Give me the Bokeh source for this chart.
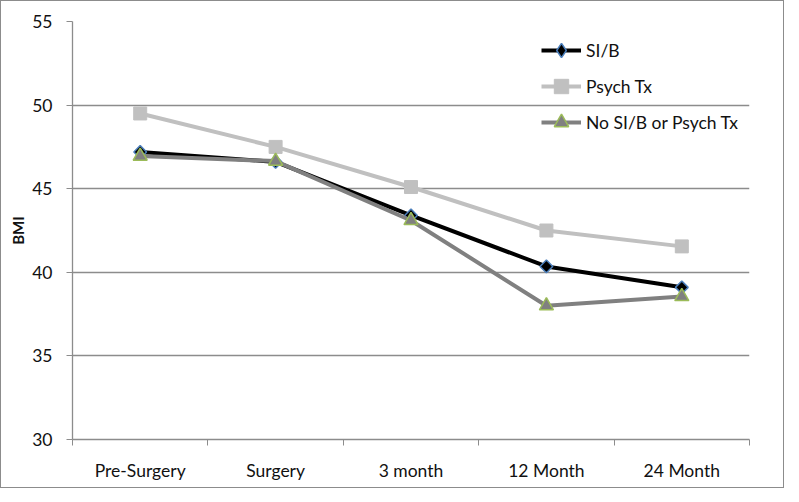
import math
from bokeh.plotting import figure
from bokeh.models import FixedTicker, Range1d, Legend, LegendItem
from bokeh.embed import file_html
from bokeh.resources import INLINE

categories = ["Pre-Surgery", "Surgery", "3 month", "12 Month", "24 Month"]
sib = [47.2, 46.6, 43.4, 40.35, 39.1]
psych = [49.5, 47.5, 45.1, 42.5, 41.55]
nosib = [46.95, 46.65, 43.1, 38.0, 38.55]
y_ticks = [30, 35, 40, 45, 50, 55]

xs = [i + 0.5 for i in range(len(categories))]
FONT = "Lato"
GRID = "#8c8c8c"

p = figure(width=784, height=488, output_backend="svg", toolbar_location=None,
           x_range=Range1d(0, len(categories)), y_range=Range1d(30, 55),
           min_border_left=71, min_border_right=36, min_border_top=20, min_border_bottom=50,
           styles={"border": "1px solid #8c8c8c", "box-sizing": "border-box"})
p.outline_line_color = None
p.xgrid.visible = False
p.ygrid.grid_line_color = GRID
p.ygrid.grid_line_width = 1.3
p.yaxis.ticker = FixedTicker(ticks=y_ticks)
p.xaxis.ticker = FixedTicker(ticks=xs, minor_ticks=list(range(len(categories) + 1)))
p.xaxis.major_label_overrides = {x: c for x, c in zip(xs, categories)}

for ax in (p.xaxis, p.yaxis):
    ax.axis_line_color = GRID
    ax.axis_line_width = 1.3
    ax.major_tick_line_color = GRID
    ax.minor_tick_line_color = GRID
    ax.major_label_text_font = FONT
    ax.major_label_text_font_size = "17.5px"
    ax.major_label_text_color = "#111111"

p.xaxis.major_tick_out = 0
p.xaxis.major_tick_in = 0
p.xaxis.minor_tick_out = 6
p.xaxis.minor_tick_in = 0
p.xaxis.major_label_standoff = 14
p.yaxis.major_tick_out = 6
p.yaxis.major_tick_in = 0
p.yaxis.minor_tick_line_color = None
p.yaxis.major_label_standoff = 14
p.yaxis.axis_label = "BMI"
p.yaxis.axis_label_text_font = FONT
p.yaxis.axis_label_text_font_style = "bold"
p.yaxis.axis_label_text_font_size = "15px"
p.yaxis.axis_label_text_color = "#111111"
p.yaxis.axis_label_standoff = 2

l1 = p.line(xs, sib, line_color="black", line_width=4)
m1_key = p.scatter(xs, sib, marker="diamond", size=1, fill_color="black",
                   line_color="#4a7ebb", line_width=1.5)
m1 = p.scatter(xs, sib, marker="square", size=9, angle=math.pi / 4, fill_color="black",
               line_color="#4a7ebb", line_width=1.5)
l2 = p.line(xs, psych, line_color="#c0c0c0", line_width=4)
m2 = p.scatter(xs, psych, marker="square", size=13, fill_color="#c0c0c0", line_color="#c0c0c0")
l3 = p.line(xs, nosib, line_color="#808080", line_width=4)
m3 = p.scatter(xs, nosib, marker="triangle", size=14, fill_color="#808080", line_color="#9bbb59", line_width=1.5)

legend = Legend(items=[
    LegendItem(label="SI/B", renderers=[l1, m1_key]),
    LegendItem(label="Psych Tx", renderers=[l2, m2]),
    LegendItem(label="No SI/B or Psych Tx", renderers=[l3, m3]),
], location=(469, 299), glyph_width=40, glyph_height=36, label_height=36,
    spacing=0, padding=0, margin=0, label_standoff=5,
    border_line_color=None, background_fill_alpha=0,
    label_text_font=FONT, label_text_font_size="17.5px", label_text_color="#111111")
p.add_layout(legend)

open("out.html", "w").write(file_html(p, INLINE))
